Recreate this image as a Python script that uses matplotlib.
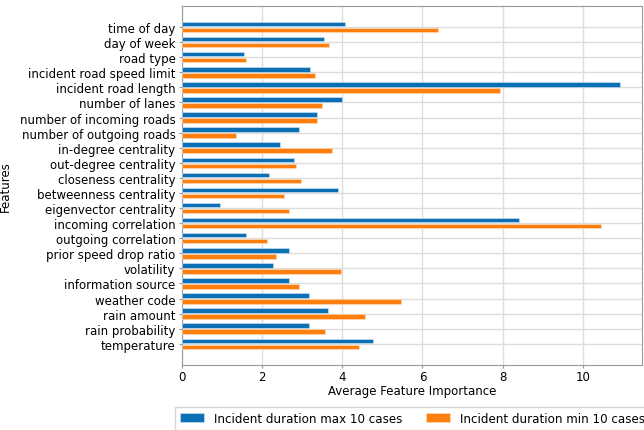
import numpy as np
import matplotlib
matplotlib.use("Agg")
from matplotlib import pyplot as plt

# Feature names, top to bottom as shown
features = [
    "time of day",
    "day of week",
    "road type",
    "incident road speed limit",
    "incident road length",
    "number of lanes",
    "number of incoming roads",
    "number of outgoing roads",
    "in-degree centrality",
    "out-degree centrality",
    "closeness centrality",
    "betweenness centrality",
    "eigenvector centrality",
    "incoming correlation",
    "outgoing correlation",
    "prior speed drop ratio",
    "volatility",
    "information source",
    "weather code",
    "rain amount",
    "rain probability",
    "temperature",
]

# Average importance, longest-duration incidents
max_cases = [4.07, 3.54, 1.54, 3.19, 10.92, 4.00, 3.36, 2.93, 2.44, 2.80, 2.17,
             3.90, 0.95, 8.40, 1.60, 2.67, 2.27, 2.68, 3.18, 3.65, 3.18, 4.76]
# Average importance, shortest-duration incidents
min_cases = [6.39, 3.67, 1.59, 3.33, 7.93, 3.50, 3.38, 1.34, 3.75, 2.84, 2.97,
             2.55, 2.67, 10.45, 2.13, 2.34, 3.98, 2.93, 5.47, 4.56, 3.56, 4.41]

labels = ["Incident duration max 10 cases", "Incident duration min 10 cases"]
x_ticks = [0, 2, 4, 6, 8, 10]

fs = 8.5

fig = plt.figure(figsize=(6.44, 4.31), dpi=100)
ax = fig.add_axes([0.2826, 0.151, 0.7144, 0.833])

y = np.arange(len(features))
h = 0.3
ax.barh(y - 0.2, max_cases, height=h, color="#0a6fb4", edgecolor="#d8e8f4",
        linewidth=0.4, label=labels[0], zorder=3)
ax.barh(y + 0.2, min_cases, height=h, color="#ff7f0e", edgecolor="#ffe0c4",
        linewidth=0.4, label=labels[1], zorder=3)

ax.set_yticks(y)
ax.set_yticklabels(features, fontsize=fs)
ax.set_ylim(len(features) - 1 + 1.4, -1.4)
ax.set_xlim(0, 11.48)
ax.set_xticks(x_ticks)
ax.tick_params(axis="x", labelsize=fs, pad=1.5)
ax.tick_params(axis="y", pad=2.2)
ax.tick_params(length=2.5, color="#999999")

ax.grid(True, color="#dddddd", linewidth=1.0, zorder=0)
ax.set_axisbelow(True)
for s in ax.spines.values():
    s.set_color("#999999")

ax.set_xlabel("Average Feature Importance", fontsize=fs)
ax.xaxis.set_label_coords(0.5, -0.052)
ax.set_ylabel("Features", fontsize=fs)
ax.yaxis.set_label_coords(-0.37, 0.5)

fig.legend(loc="upper left", bbox_to_anchor=(175 / 644, 1 - 408 / 431),
           ncol=2, fontsize=8.6, handlelength=2.0, columnspacing=2.0,
           handletextpad=0.85, frameon=True, edgecolor="#cccccc",
           fancybox=False, borderaxespad=0)

fig.savefig("out.png", dpi=100)
